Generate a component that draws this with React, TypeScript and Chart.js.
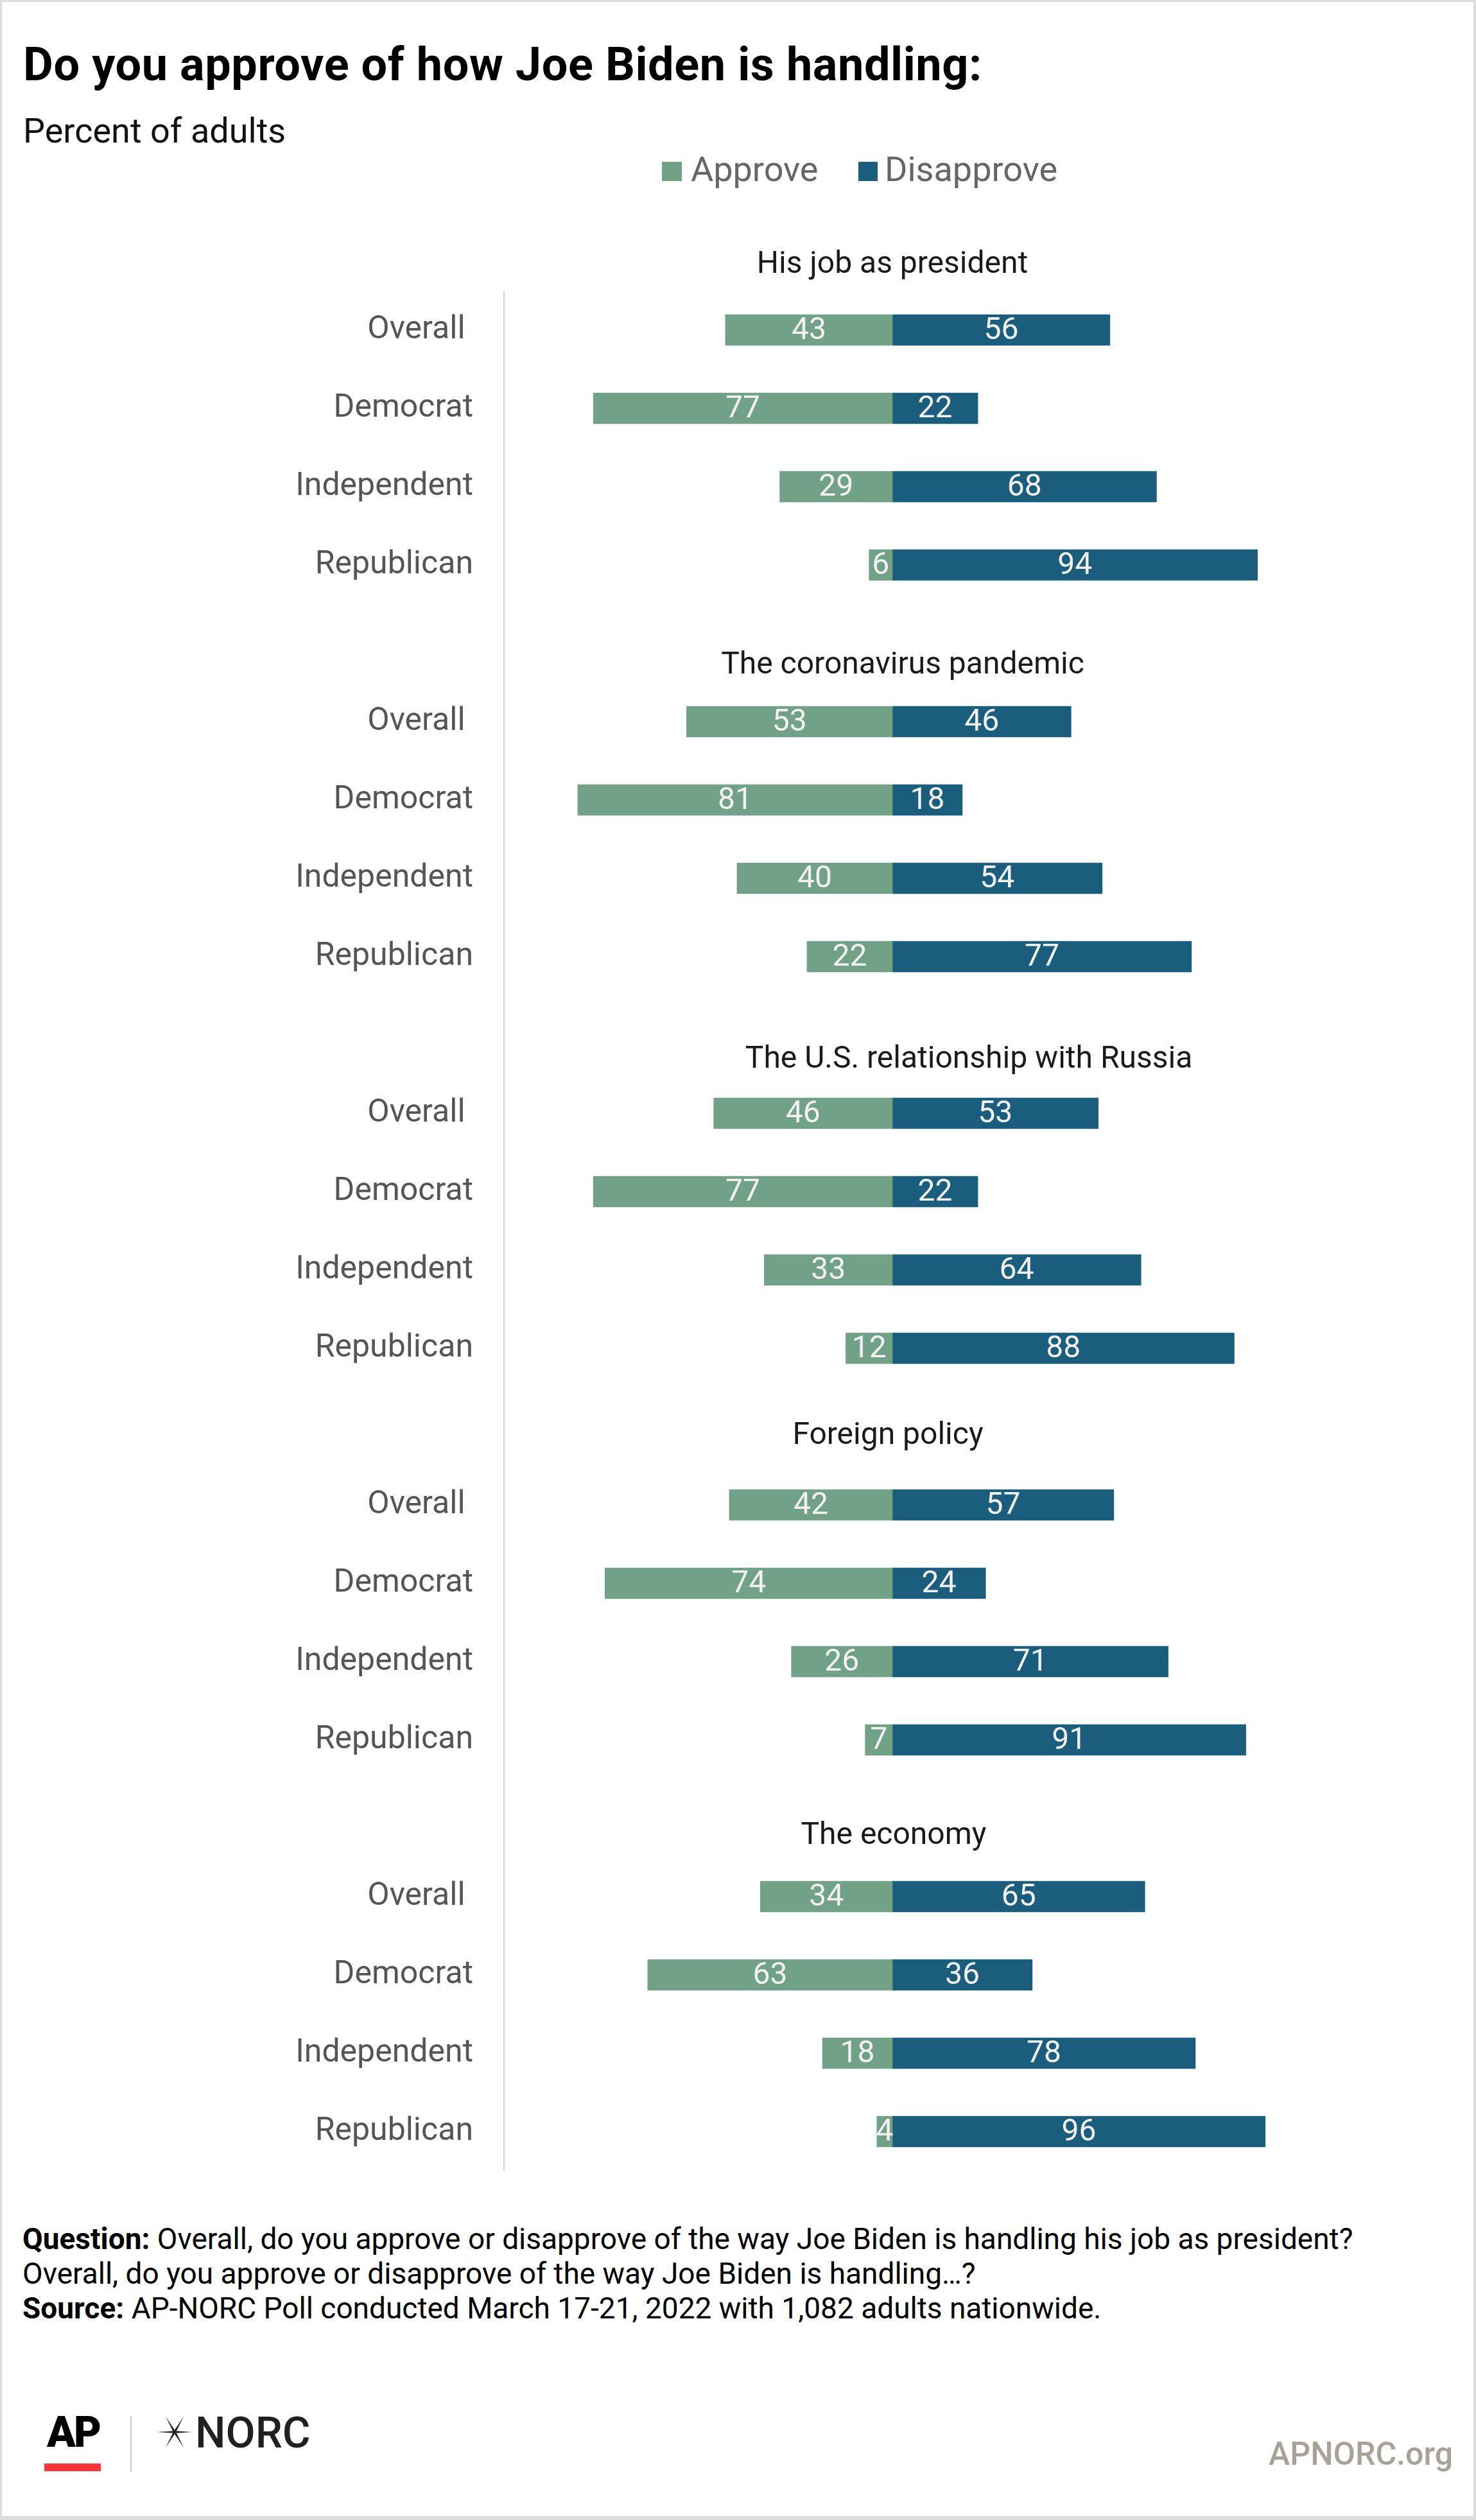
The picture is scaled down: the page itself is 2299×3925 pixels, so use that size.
import React, { useEffect, useRef } from "react";
import { Chart, registerables } from "chart.js";

Chart.register(...registerables);

const TOPICS = [
  "His job as president",
  "The coronavirus pandemic",
  "The U.S. relationship with Russia",
  "Foreign policy",
  "The economy",
];
const GROUPS = ["Overall ", "Democrat", "Independent", "Republican"];
const APPROVE = [43, 77, 29, 6, 53, 81, 40, 22, 46, 77, 33, 12, 42, 74, 26, 7, 34, 63, 18, 4];
const DISAPPROVE = [56, 22, 68, 94, 46, 18, 54, 77, 53, 22, 64, 88, 57, 24, 71, 91, 65, 36, 78, 96];
const SERIES_NAMES = ["Approve", "Disapprove"];

const COLOR_APPROVE = "#71a288";
const COLOR_DISAPPROVE = "#1a5d7d";
const FONT = "Roboto";

// layout constants for topic headings (pixels relative to the Overall row / zero line)
const HEADER_OFFSETS = [89, 75, 71, 95, 82];
const HEADER_DX = [0, 16, 119, -7, 2];

function buildRows() {
  const labels: string[] = [];
  const approve: (number | null)[] = [];
  const disapprove: (number | null)[] = [];
  TOPICS.forEach((_, t) => {
    labels.push("");
    approve.push(null);
    disapprove.push(null);
    GROUPS.forEach((g, i) => {
      labels.push(g);
      approve.push(-APPROVE[t * GROUPS.length + i]);
      disapprove.push(DISAPPROVE[t * GROUPS.length + i]);
    });
  });
  return { labels, approve, disapprove };
}

const axisLinePlugin = {
  id: "axisLine",
  beforeDatasetsDraw(chart: any) {
    const { ctx, chartArea, scales } = chart;
    const y = scales.y;
    const half = (y.getPixelForValue(1) - y.getPixelForValue(0)) / 2;
    const top = y.getPixelForValue(1) - half;
    ctx.save();
    ctx.strokeStyle = "#d2d2d2";
    ctx.lineWidth = 2;
    ctx.beginPath();
    ctx.moveTo(chartArea.left, top);
    ctx.lineTo(chartArea.left, chartArea.bottom);
    ctx.stroke();
    ctx.restore();
  },
};

const labelsPlugin = {
  id: "valueLabels",
  afterDatasetsDraw(chart: any) {
    const { ctx, scales } = chart;
    ctx.save();
    ctx.font = `48px ${FONT}`;
    ctx.fillStyle = "#f2f2f2";
    ctx.textAlign = "center";
    ctx.textBaseline = "middle";
    chart.data.datasets.forEach((ds: any, di: number) => {
      const meta = chart.getDatasetMeta(di);
      meta.data.forEach((el: any, i: number) => {
        const v = ds.data[i];
        if (v === null || v === undefined) return;
        const cx = (el.x + el.base) / 2;
        ctx.fillText(String(Math.abs(v)), cx, el.y + 2);
      });
    });
    // topic headings
    ctx.font = `48px ${FONT}`;
    ctx.fillStyle = "#1a1a1a";
    ctx.textBaseline = "alphabetic";
    const zero = scales.x.getPixelForValue(0);
    TOPICS.forEach((t, ti) => {
      const idx = ti * (GROUPS.length + 1) + 1;
      const y = scales.y.getPixelForValue(idx) - HEADER_OFFSETS[ti];
      ctx.fillText(t, zero + HEADER_DX[ti], y);
    });
    ctx.restore();
  },
};

function BarChart() {
  const ref = useRef<HTMLCanvasElement | null>(null);
  useEffect(() => {
    if (!ref.current) return;
    const { labels, approve, disapprove } = buildRows();
    const chart = new Chart(ref.current, {
      type: "bar",
      data: {
        labels,
        datasets: [
          {
            label: SERIES_NAMES[0],
            data: approve,
            backgroundColor: COLOR_APPROVE,
            barThickness: 48,
            borderWidth: 0,
          },
          {
            label: SERIES_NAMES[1],
            data: disapprove,
            backgroundColor: COLOR_DISAPPROVE,
            barThickness: 48,
            borderWidth: 0,
          },
        ],
      },
      options: {
        indexAxis: "y",
        animation: false,
        responsive: true,
        maintainAspectRatio: false,
        layout: { padding: { top: 331, bottom: 78, left: 0, right: 304 } },
        plugins: {
          legend: { display: false },
          tooltip: { enabled: false },
          title: { display: false },
        },
        scales: {
          x: {
            stacked: true,
            min: -100,
            max: 100,
            display: false,
          },
          y: {
            stacked: true,
            grid: { display: false, drawTicks: false },
            border: { display: false },
            ticks: {
              padding: 48,
              color: "#555555",
              font: { family: FONT, size: 50 },
              autoSkip: false,
            },
            afterFit(scale: any) {
              scale.width = 785;
            },
          },
        },
      },
      plugins: [axisLinePlugin, labelsPlugin],
    });
    return () => chart.destroy();
  }, []);
  return (
    <div style={{ position: "absolute", left: 0, top: 0, width: 2299, height: 3459 }}>
      <canvas ref={ref} />
    </div>
  );
}

function Star() {
  return (
    <svg width={54} height={48} viewBox="0 0 54 48" style={{ position: "absolute", left: 245, top: 3764 }}>
      <polygon points="0,24 27,22.3 54,24 27,25.7" fill="#231f20" />
      <polygon points="13,0 28.6,23.2 41,48 25.4,24.8" fill="#231f20" />
      <polygon points="41,0 28.6,24.8 13,48 25.4,23.2" fill="#231f20" />
    </svg>
  );
}

export default function App() {
  const base: React.CSSProperties = { position: "absolute", whiteSpace: "nowrap", fontFamily: FONT, lineHeight: 1 };
  return (
    <div
      style={{
        position: "absolute",
        left: 0,
        top: 0,
        width: 2299,
        height: 3925,
        background: "#ffffff",
        overflow: "hidden",
        fontFamily: FONT,
      }}
    >
      <BarChart />
      <div style={{ ...base, left: 36, top: 65, fontSize: 72, fontWeight: 700, color: "#000", letterSpacing: 0.6 }}>
        Do you approve of how Joe Biden is handling:
      </div>
      <div style={{ ...base, left: 36, top: 177, fontSize: 54, color: "#111" }}>Percent of adults</div>

      <div style={{ position: "absolute", left: 1031, top: 252, width: 31, height: 30, background: COLOR_APPROVE }} />
      <div style={{ ...base, left: 1076, top: 237, fontSize: 54, color: "#666" }}>{SERIES_NAMES[0]}</div>
      <div style={{ position: "absolute", left: 1337, top: 252, width: 30, height: 30, background: COLOR_DISAPPROVE }} />
      <div style={{ ...base, left: 1378, top: 237, fontSize: 54, color: "#666" }}>{SERIES_NAMES[1]}</div>

      <div style={{ ...base, left: 35, top: 3460, fontSize: 46, lineHeight: "54px", color: "#000" }}>
        <b>Question:</b> Overall, do you approve or disapprove of the way Joe Biden is handling his job as president?
        <br />
        Overall, do you approve or disapprove of the way Joe Biden is handling…?
        <br />
        <b>Source:</b> AP-NORC Poll conducted March 17-21, 2022 with 1,082 adults nationwide.
      </div>

      <div style={{ ...base, left: 73, top: 3756, fontSize: 66, fontWeight: 900, color: "#000", letterSpacing: -3 }}>AP</div>
      <div style={{ position: "absolute", left: 69, top: 3837, width: 88, height: 12, background: "#ff3333" }} />
      <div style={{ position: "absolute", left: 203, top: 3764, width: 2, height: 85, background: "#cfccc6" }} />
      <Star />
      <div style={{ ...base, left: 304, top: 3756, fontSize: 67, fontWeight: 500, color: "#231f20" }}>NORC</div>
      <div style={{ ...base, right: 36, top: 3797, fontSize: 50, fontWeight: 500, color: "#a7a196" }}>APNORC.org</div>

      <div
        style={{
          position: "absolute",
          left: 0,
          top: 0,
          width: 2299,
          height: 3925,
          boxSizing: "border-box",
          borderStyle: "solid",
          borderColor: "#dcdcdc",
          borderWidth: "3px 4px 6px 3px",
          pointerEvents: "none",
        }}
      />
    </div>
  );
}
